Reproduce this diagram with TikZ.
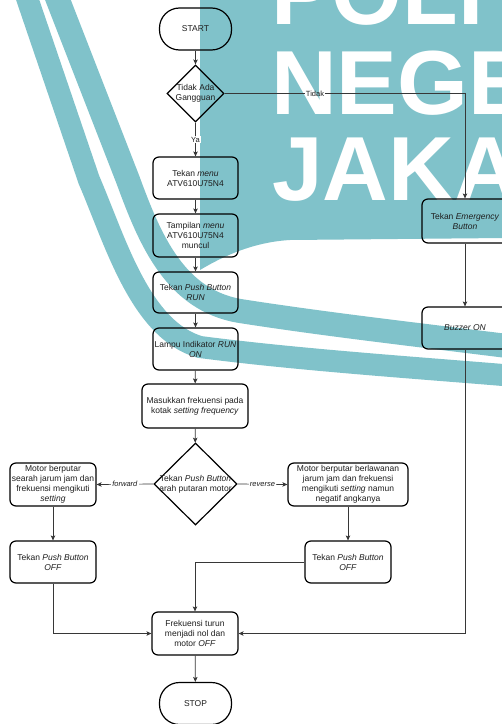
\documentclass[tikz,border=0pt]{standalone}
\usepackage{fontspec}
\setmainfont{Liberation Sans}
\usetikzlibrary{shapes.geometric,arrows.meta}
\definecolor{wm}{RGB}{128,194,202}
\definecolor{ln}{RGB}{55,55,55}
\definecolor{tx}{RGB}{30,30,30}
\newcommand\myboxfont{\fontsize{8.5bp}{10bp}\selectfont}
\newcommand\mylblfont{\fontsize{7.5bp}{9bp}\selectfont}
\newcommand\mywmfont{\fontsize{91bp}{91bp}\selectfont\bfseries}
\begin{document}
\begin{tikzpicture}[x=1bp,y=-1bp,
  box/.style={draw=black, line width=1.2bp, rounded corners=6bp, align=center, inner sep=1bp, font=\myboxfont, text=tx},
  term/.style={box, rounded corners=20bp, minimum width=72bp, minimum height=42bp},
  dia/.style={draw=black, line width=1.2bp, diamond, inner sep=0pt},
  dtext/.style={align=center, inner sep=0pt, font=\myboxfont, text=tx},
  lbl/.style={font=\mylblfont, inner sep=1bp, text=tx},
  arr/.style={draw=ln, line width=0.7bp, -{Stealth[length=5bp,width=4.5bp,inset=1.2bp]}},
  conn/.style={draw=ln, line width=0.7bp},
  wmtext/.style={anchor=base west, inner sep=0pt, font=\mywmfont, text=white}
]
\useasboundingbox (0,0) rectangle (502,724);
\clip (0,0) rectangle (502,724);
\fill[white] (0,0) rectangle (502,724);

% watermark
\fill[wm] (200,-2) -- (505,-2) -- (505,238) -- (290,240) .. controls (255,242) and (225,255) .. (200,270) -- cycle;
\draw[wm, line width=24bp] (56,-5) -- (128,180) .. controls (150,240) and (175,300) .. (240,311) .. controls (330,325) and (420,335) .. (515,347);
\draw[wm, line width=22bp] (26,-5) -- (89,180) .. controls (115,240) and (140,330) .. (200,347) .. controls (300,360) and (420,368) .. (515,376);
\node[wmtext] (wm1) at (271,25) {POLI};
\node[wmtext] (wm2) at (271,115) {NEGE};
\node[wmtext] (wm3) at (272,200) {JAKA};

% nodes
\node[term] (start) at (195.5,29) {START};
\node[dia, minimum width=57bp, minimum height=57bp] (d1) at (195.5,93.5) {};
\node[dtext] (d1t) at (d1.center) {Tidak Ada\\Gangguan};
\node[box, minimum width=85bp, minimum height=42bp] (b1) at (195.5,178) {Tekan \textit{menu}\\ATV610U75N4};
\node[box, minimum width=85bp, minimum height=43bp] (b2) at (195.5,235.5) {Tampilan \textit{menu}\\ATV610U75N4\\muncul};
\node[box, minimum width=85bp, minimum height=41bp] (b3) at (195.5,292.5) {Tekan \textit{Push Button}\\\textit{RUN}};
\node[box, minimum width=85bp, minimum height=42bp] (b4) at (195.5,349) {Lampu Indikator \textit{RUN}\\\textit{ON}};
\node[box, minimum width=106bp, minimum height=44bp] (b5) at (195,406) {Masukkan frekuensi pada\\kotak \textit{setting frequency}};
\node[dia, minimum width=83bp, minimum height=82bp] (d2) at (195.5,484) {};
\node[dtext] (d2t) at (d2.center) {Tekan \textit{Push Button}\\arah putaran motor};
\node[box, minimum width=86bp, minimum height=43bp] (fw) at (53,484.5) {Motor berputar\\searah jarum jam dan\\frekuensi mengikuti\\\textit{setting}};
\node[box, minimum width=86bp, minimum height=42bp] (offL) at (53,562) {Tekan \textit{Push Button}\\\textit{OFF}};
\node[box, minimum width=120bp, minimum height=43bp] (rv) at (348,484.5) {Motor berputar berlawanan\\jarum jam dan frekuensi\\mengikuti \textit{setting} namun\\negatif angkanya};
\node[box, minimum width=86bp, minimum height=42bp] (offR) at (348,562) {Tekan \textit{Push Button}\\\textit{OFF}};
\node[box, minimum width=86bp, minimum height=44bp] (emg) at (465,221) {Tekan \textit{Emergency}\\\textit{Button}};
\node[box, minimum width=86bp, minimum height=42bp] (buz) at (465,328) {\textit{Buzzer ON}};
\node[box, minimum width=86bp, minimum height=43bp] (fin) at (195,633.5) {Frekuensi turun\\menjadi nol dan\\motor \textit{OFF}};
\node[term] (stop) at (195.5,703.5) {STOP};

% labels
\node[lbl] (tlab) at (315,93.5) {Tidak};

% connectors
\draw[arr] (start) -- (d1);
\draw[arr] (d1) -- node[lbl, fill=white] (ylab) {Ya} (b1);
\draw[conn] (d1.east) -- (tlab.west);
\draw[arr] (tlab.east) -| (emg.north);
\draw[arr] (b1) -- (b2);
\draw[arr] (b2) -- (b3);
\draw[arr] (b3) -- (b4);
\draw[arr] (b4) -- (b5);
\draw[arr] (b5) -- (d2);
\draw[arr] (d2.west) -- node[lbl, fill=white] (flab) {\textit{forward}} (fw.east);
\draw[arr] (d2.east) -- node[lbl, fill=white] (rlab) {\textit{reverse}} (rv.west);
\draw[arr] (fw) -- (offL);
\draw[arr] (rv) -- (offR);
\draw[arr] (offL.south) |- (fin.west);
\draw[arr] (offR.west) -| (fin.north);
\draw[arr] (emg) -- (buz);
\draw[arr] (buz.south) |- (fin.east);
\draw[arr] (fin) -- (stop);
\end{tikzpicture}
\end{document}
